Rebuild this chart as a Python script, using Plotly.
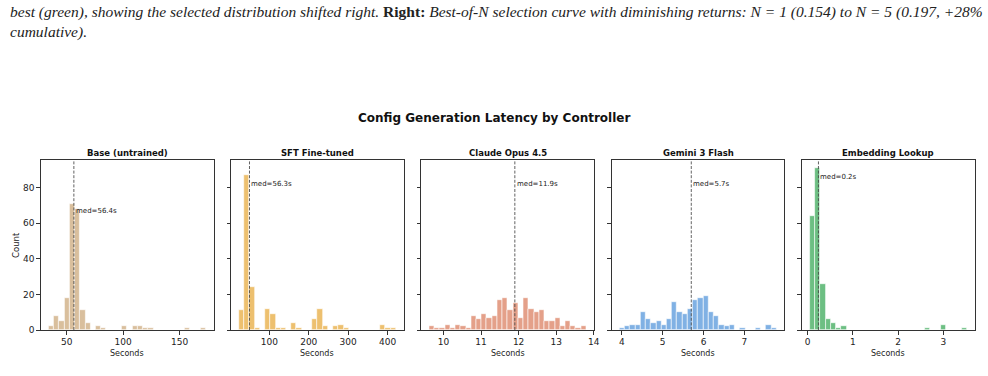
import numpy as np
import plotly.graph_objects as go

# ---------------- data ----------------
caption_line1 = ("<i>best (green), showing the selected distribution shifted right.</i> <b>Right:</b> "
                 "<i>Best-of-N selection curve with diminishing returns: N = 1 (0.154) to N = 5 (0.197, +28%</i>")
caption_line2 = "<i>cumulative).</i>"
main_title = "Config Generation Latency by Controller"
panel_titles = ["Base (untrained)", "SFT Fine-tuned", "Claude Opus 4.5", "Gemini 3 Flash", "Embedding Lookup"]

bin_lo = [34.0, 22.5, 9.62, 3.94, 0.048]
bin_hi = [173.0, 421.4, 13.80, 7.79, 3.516]

base_counts = [2, 8, 5, 18, 71, 68, 11, 4, 0, 2, 1, 0, 0, 0, 2, 0, 2, 2, 1, 1, 0, 0, 0, 0, 0, 0, 1, 0, 0, 1]
sft_counts = [11, 87, 24, 1, 0, 12, 9, 1, 1, 0, 4, 1, 0, 0, 6, 12, 2, 0, 2, 3, 1, 0, 0, 0, 0, 0, 0, 3, 1, 1]
claude_counts = [2, 1, 1, 3, 1, 3, 2, 1, 8, 6, 9, 7, 8, 17, 18, 11, 15, 7, 18, 12, 10, 11, 5, 5, 7, 2, 5, 2, 1, 2]
gemini_counts = [1, 2, 3, 3, 10, 6, 4, 5, 3, 6, 16, 10, 9, 12, 17, 18, 19, 10, 8, 3, 2, 3, 0, 1, 0, 0, 1, 0, 3, 1]
embedding_counts = [64, 91, 26, 6, 4, 1, 2, 0, 0, 0, 0, 0, 0, 0, 0, 0, 0, 0, 0, 0, 0, 0, 1, 0, 0, 3, 0, 0, 0, 1]
all_counts = [base_counts, sft_counts, claude_counts, gemini_counts, embedding_counts]

median_lines = [56.4, 49.5, 11.9, 5.7, 0.24]
median_labels = ["med=56.4s", "med=56.3s", "med=11.9s", "med=5.7s", "med=0.2s"]

x_tickvals = [[50, 100, 150], [100, 200, 300, 400], [10, 11, 12, 13, 14], [4, 5, 6, 7], [0, 1, 2, 3]]
y_tickvals = [0, 20, 40, 60, 80]

colors = ["rgba(210,180,140,0.85)", "rgba(232,176,75,0.8)", "rgba(217,119,87,0.7)",
          "rgba(74,144,217,0.7)", "rgba(60,170,90,0.75)"]

# ---------------- layout constants ----------------
W, H = 988, 376
panel_left = [40.7, 231.0, 421.3, 611.6, 801.9]
panel_w = 172.8
ax_top, ax_bot = 160, 330
ytop = 1 - ax_top / H
ybot = 1 - ax_bot / H

TICK_FONT = dict(family="DejaVu Sans", size=9, color="#222")
AX_COLOR = "#333"

fig = go.Figure()
ymax = 1.05 * max(max(c) for c in all_counts)

running_max = 0
annotations = []
shapes = []
layout_axes = {}
for i in range(5):
    n = len(all_counts[i])
    edges = np.linspace(bin_lo[i], bin_hi[i], n + 1)
    centers = (edges[:-1] + edges[1:]) / 2
    bw = edges[1] - edges[0]
    xa = "x" if i == 0 else f"x{i+1}"
    ya = "y" if i == 0 else f"y{i+1}"
    fig.add_trace(go.Bar(
        x=centers, y=all_counts[i], width=bw,
        marker=dict(color=colors[i], line=dict(color="white", width=0.6)),
        xaxis=xa, yaxis=ya, showlegend=False, hoverinfo="x+y"))

    span = bin_hi[i] - bin_lo[i]
    xr = [bin_lo[i] - 0.05 * span, bin_hi[i] + 0.05 * span]
    l = panel_left[i] / W
    r = (panel_left[i] + panel_w) / W
    layout_axes["xaxis" if i == 0 else f"xaxis{i+1}"] = dict(
        domain=[l, r], range=xr, anchor=ya, tickvals=x_tickvals[i],
        showline=True, mirror=True, linecolor=AX_COLOR, linewidth=1,
        ticks="outside", ticklen=3.5, tickwidth=0.8, tickcolor=AX_COLOR,
        ticklabelstandoff=0, automargin=False,
        tickfont=TICK_FONT, showgrid=False, zeroline=False, fixedrange=True)
    layout_axes["yaxis" if i == 0 else f"yaxis{i+1}"] = dict(
        domain=[ybot, ytop], range=[0, ymax], anchor=xa, tickvals=y_tickvals,
        showticklabels=(i == 0), automargin=False,
        showline=True, mirror=True, linecolor=AX_COLOR, linewidth=1,
        ticks="outside", ticklen=3.5, tickwidth=0.8, tickcolor=AX_COLOR,
        tickfont=TICK_FONT, showgrid=False, zeroline=False, fixedrange=True)

    # median line
    shapes.append(dict(type="line", xref=xa, yref=f"{ya} domain", x0=median_lines[i], x1=median_lines[i],
                       y0=0, y1=1, line=dict(color="rgba(70,70,70,0.85)", width=1, dash="3px,1.6px")))
    running_max = max(running_max, max(all_counts[i]))
    label_y = 0.9 * 1.05 * running_max
    annotations.append(dict(x=median_lines[i], y=label_y, xref=xa, yref=ya, text=median_labels[i],
                            showarrow=False, xanchor="left", yanchor="middle", xshift=0,
                            font=dict(family="DejaVu Sans", size=7, color="#222")))
    # panel title
    annotations.append(dict(x=(l + r) / 2, y=1 - 152.5 / H, xref="paper", yref="paper",
                            text=f"<b>{panel_titles[i]}</b>", showarrow=False,
                            xanchor="center", yanchor="middle",
                            font=dict(family="DejaVu Sans", size=8.5, color="#111")))
    # x label
    annotations.append(dict(x=(l + r) / 2, y=1 - 353 / H, xref="paper", yref="paper",
                            text="Seconds", showarrow=False, xanchor="center", yanchor="middle",
                            font=dict(family="DejaVu Sans", size=8, color="#222")))

annotations.append(dict(x=16 / W, y=1 - 245 / H, xref="paper", yref="paper", text="Count",
                        showarrow=False, textangle=-90, xanchor="center", yanchor="middle",
                        font=dict(family="DejaVu Sans", size=8.5, color="#222")))
annotations.append(dict(x=0.5, y=1 - 118 / H, xref="paper", yref="paper", text=f"<b>{main_title}</b>",
                        showarrow=False, xanchor="center", yanchor="middle",
                        font=dict(family="DejaVu Sans", size=12, color="#111")))
annotations.append(dict(x=8 / W, y=1 - 1 / H, xref="paper", yref="paper",
                        text=caption_line1 + "<br>" + caption_line2, align="left",
                        showarrow=False, xanchor="left", yanchor="top",
                        font=dict(family="Liberation Serif", size=15.5, color="#222")))

fig.update_layout(width=W, height=H, margin=dict(l=0, r=0, t=0, b=0, autoexpand=False),
                  paper_bgcolor="white", plot_bgcolor="white", bargap=0,
                  annotations=annotations, shapes=shapes, **layout_axes)
fig.write_html("out.html")
